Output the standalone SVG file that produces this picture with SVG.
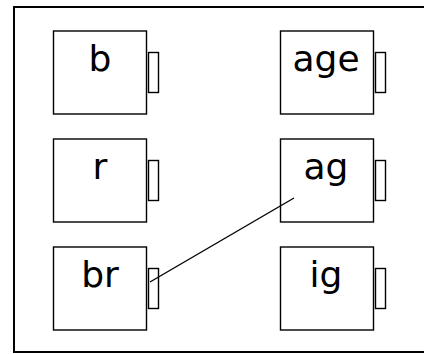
<svg xmlns="http://www.w3.org/2000/svg" width="424" height="354" viewBox="0 0 424 354">
<style>
.box{fill:#fff;stroke:#000;stroke-width:1.4}
.port{fill:#fff;stroke:#000;stroke-width:1.4}
.lbl{font-family:"Comic Sans MS","DejaVu Sans",sans-serif;font-size:36px;text-anchor:middle;fill:#000}
.frame{fill:#fff;stroke:#000;stroke-width:2}
.wire{stroke:#000;stroke-width:1.4;fill:none}
</style>
<rect class="frame" x="14" y="7" width="420" height="345"/>
<g id="node-b">
<rect class="box" x="53.5" y="31" width="93" height="83"/>
<rect class="port" x="148.5" y="52.5" width="10" height="40"/>
<text class="lbl" x="100" y="71">b</text>
</g>
<g id="node-age">
<rect class="box" x="280.5" y="31" width="93" height="83"/>
<rect class="port" x="375.5" y="52.5" width="10" height="40"/>
<text class="lbl" x="326" y="71">age</text>
</g>
<g id="node-r">
<rect class="box" x="53.5" y="139" width="93" height="83"/>
<rect class="port" x="148.5" y="160.5" width="10" height="40"/>
<text class="lbl" x="100" y="179">r</text>
</g>
<g id="node-ag">
<rect class="box" x="280.5" y="139" width="93" height="83"/>
<rect class="port" x="375.5" y="160.5" width="10" height="40"/>
<text class="lbl" x="326" y="179">ag</text>
</g>
<g id="node-br">
<rect class="box" x="53.5" y="247" width="93" height="83"/>
<rect class="port" x="148.5" y="268.5" width="10" height="40"/>
<text class="lbl" x="100" y="287">br</text>
</g>
<g id="node-ig">
<rect class="box" x="280.5" y="247" width="93" height="83"/>
<rect class="port" x="375.5" y="268.5" width="10" height="40"/>
<text class="lbl" x="326" y="287">ig</text>
</g>
<g id="connectors">
<line class="wire" x1="150" y1="282" x2="294" y2="198"/>
</g>
</svg>
